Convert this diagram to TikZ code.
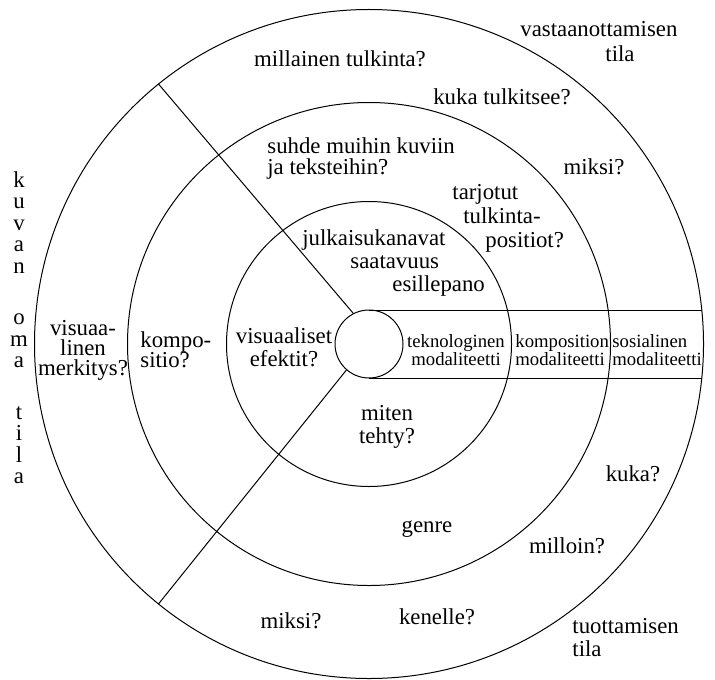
\documentclass[tikz,border=0pt]{standalone}
\usepackage{fontspec}
\setmainfont{Liberation Serif}
\usetikzlibrary{calc}
\newcommand{\labelsize}{\fontsize{11.4pt}{11.25pt}\selectfont}
\newcommand{\modsize}{\fontsize{9.35pt}{9pt}\selectfont}
\newcommand{\columnsize}{\fontsize{11.4pt}{10.75pt}\selectfont}

\begin{document}
\begin{tikzpicture}[
  x=0.5pt, y=-0.5pt,
  every node/.style={font=\labelsize, inner sep=0pt},
  ring/.style={circle, draw, line width=0.5pt, inner sep=0pt, outer sep=0pt},
  leftlabel/.style={align=left, anchor=base west},
  midlabel/.style={align=center, anchor=base},
  modlabel/.style={font=\modsize, align=left, anchor=base west},
  divider/.style={line width=0.5pt}
]
\useasboundingbox (0,0) rectangle (715,679);

% Rings round one centre
\coordinate (c) at (369,344);
\node[ring, minimum size=34pt] (hub) at (c) {};
\node[ring, minimum size=142.5pt] (inner) at (c) {};
\node[ring, minimum size=241.5pt] (middle) at (c) {};
\node[ring, minimum size=334.5pt] (outer) at (c) {};

% Dividing lines
\draw[divider] (hub.117) -- (outer.129);
\draw[divider] (hub.229) -- (outer.231);

% Band of modalities
\draw[divider] (hub.north) -- (hub.north -| outer.6);
\draw[divider] (hub.south) -- (hub.south -| outer.-6);

% Reception, top (multi-line labels sit on their last baseline)
\node[midlabel] (millainen) at (340,67) {millainen tulkinta?};
\node[leftlabel] (vastaanotto) at (520,62) {vastaanottamisen\\[1.25pt]\hspace*{42.5pt}tila};
\node[midlabel] (kukatulkitsee) at (502,105) {kuka tulkitsee?};
\node[leftlabel] (suhde) at (267,175) {suhde muihin kuviin\\[-0.75pt]ja teksteihin?};
\node[midlabel] (miksiyla) at (594,174) {miksi?};
\node[leftlabel] (tarjotut) at (452,247) {tarjotut\\[0.75pt]\hspace*{5.5pt}tulkinta-\\[0.75pt]\hspace*{16.5pt}positiot?};
\node[leftlabel] (julkaisu) at (302,291) {julkaisukanavat\\[0.25pt]\hspace*{24pt}saatavuus\\[0.25pt]\hspace*{45pt}esillepano};

% Modalities in the band
\node[modlabel, align=center, anchor=base] (teknomod) at (456,365) {teknologinen\\modaliteetti};
\node[modlabel] (kompmod) at (515,365) {komposition\\modaliteetti};
\node[modlabel] (sosmod) at (612,365) {sosialinen\\modaliteetti};

% The image itself, left
\node[midlabel] (efektit) at (284,366) {visuaaliset\\[0.25pt]efektit?};
\node[leftlabel] (kompositio) at (140,367) {kompo-\\[-1.25pt]sitio?};
\node[midlabel] (merkitys) at (83,375) {visuaa-\\[-1.25pt]linen\\[-1.25pt]merkitys?};
\node[midlabel, font=\columnsize] (kuvanoma) at (19,483.5)
  {k\\u\\v\\a\\n\\[15pt]o\\m\\a\\[15pt]t\\i\\l\\a};

% Production, bottom
\node[midlabel] (miten) at (387,443) {miten\\[0.25pt]tehty?};
\node[midlabel] (genre) at (427,532) {genre};
\node[midlabel] (kuka) at (633,481) {kuka?};
\node[midlabel] (milloin) at (567,553) {milloin?};
\node[midlabel] (miksiala) at (291,628) {miksi?};
\node[midlabel] (kenelle) at (437,624) {kenelle?};
\node[leftlabel] (tuottaminen) at (572,656) {tuottamisen\\[0.25pt]tila};

\end{tikzpicture}
\end{document}
